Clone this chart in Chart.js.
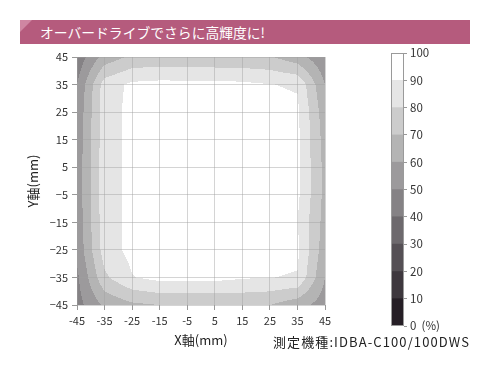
<!DOCTYPE html>
<html><head><meta charset="utf-8">
<script src="https://cdn.jsdelivr.net/npm/chart.js@4"></script>
<style>
html,body{margin:0;padding:0;background:#fff;}
#wrap{position:relative;width:490px;height:370px;overflow:hidden;font-family:"Noto Sans CJK JP","Noto Sans",sans-serif;}
#banner{position:absolute;left:20px;top:20px;width:450px;height:24px;background:#b55b7d;}
#tri{position:absolute;left:20px;top:20px;width:0;height:0;border-top:12px solid #cf86a2;border-right:12px solid transparent;}
#bannerText{position:absolute;left:40px;top:20px;height:24px;line-height:24px;color:#fff;font-size:13.8px;white-space:nowrap;}
#main{position:absolute;left:0;top:0;}
#cb{position:absolute;left:380px;top:40px;}
#foot{position:absolute;left:273px;top:332px;font-size:13px;color:#222;white-space:nowrap;letter-spacing:1.1px;}
</style></head>
<body>
<div id="wrap">
  <div id="banner"></div><div id="tri"></div>
  <div id="bannerText">オーバードライブでさらに高輝度に!</div>
  <canvas id="main" width="490" height="370"></canvas>
  <canvas id="cb" width="110" height="300"></canvas>
  <div id="foot">測定機種:IDBA-C100/100DWS</div>
</div>
<script>
// ---- data (relative luminance %) ----
const gridX = [-45, -35, -25, -15, -5, 5, 15, 25, 35, 45];
const gridY = [45, 35, 25, 15, 5, -5, -15, -25, -35, -45];
const rowY45  = [43, 64, 72, 73, 72, 72, 72, 71, 64, 52];
const rowY35  = [50, 85, 92, 93, 93, 93, 92, 90.3, 89, 60];
const rowY25  = [52, 86, 92.5, 95, 96, 96, 95, 93, 92, 64];
const rowY15  = [53, 86, 92.5, 96, 98, 98, 96, 94, 92, 66];
const rowY5   = [54, 86, 92.5, 97, 99, 99, 97, 94, 92, 67];
const rowYm5  = [54, 86, 92.5, 97, 99, 99, 97, 94, 92, 67];
const rowYm15 = [53, 86, 92.5, 96, 98, 98, 96, 94, 90.1, 66];
const rowYm25 = [52, 85, 93, 95, 96, 96, 95, 93, 92, 64];
const rowYm35 = [48, 78, 89.5, 93, 93, 93, 91, 90.2, 89.3, 60];
const rowYm45 = [46, 62, 68, 70, 70, 70, 71, 70, 64, 55];
const bandEdges = [0, 10, 20, 30, 40, 50, 60, 70, 80, 90, 100];
const bandColors = ['#261f26','#3e383e','#555055','#6d696d','#858285','#9c9a9c','#b4b4b4','#cccccc','#e5e5e5','#ffffff'];
const xTickLabels = ['-45','-35','-25','-15','-5','5','15','25','35','45'];
const yTickLabels = ['45','35','25','15','5','\u22125','\u221215','\u221225','\u221235','\u221245'];

const intensityRows = [rowY45, rowY35, rowY25, rowY15, rowY5, rowYm5, rowYm15, rowYm25, rowYm35, rowYm45];

function interp(x, y) {
  // bilinear interpolation on the measured grid
  let i = 0; while (i < gridX.length - 2 && x > gridX[i + 1]) i++;
  let j = 0; while (j < gridY.length - 2 && y < gridY[j + 1]) j++;
  const tx = Math.min(1, Math.max(0, (x - gridX[i]) / (gridX[i + 1] - gridX[i])));
  const ty = Math.min(1, Math.max(0, (y - gridY[j]) / (gridY[j + 1] - gridY[j])));
  const a = intensityRows[j][i], b = intensityRows[j][i + 1];
  const c = intensityRows[j + 1][i], d = intensityRows[j + 1][i + 1];
  return a * (1 - tx) * (1 - ty) + b * tx * (1 - ty) + c * (1 - tx) * ty + d * tx * ty;
}
function hexToRgb(h) { return [parseInt(h.substr(1,2),16), parseInt(h.substr(3,2),16), parseInt(h.substr(5,2),16)]; }
const bandRgb = bandColors.map(hexToRgb);
function bandIndex(v) {
  for (let k = bandEdges.length - 2; k >= 0; k--) if (v >= bandEdges[k]) return k;
  return 0;
}

const heatPlugin = {
  id: 'heat',
  beforeDraw(chart) {
    const ca = chart.chartArea, xs = chart.scales.x, ys = chart.scales.y;
    const w = Math.round(ca.right - ca.left), h = Math.round(ca.bottom - ca.top);
    const off = document.createElement('canvas'); off.width = w; off.height = h;
    const octx = off.getContext('2d');
    const img = octx.createImageData(w, h);
    for (let py = 0; py < h; py++) {
      const yv = ys.getValueForPixel(ca.top + py + 0.5);
      for (let px = 0; px < w; px++) {
        const xv = xs.getValueForPixel(ca.left + px + 0.5);
        const c = bandRgb[bandIndex(interp(xv, yv))];
        const o = (py * w + px) * 4;
        img.data[o] = c[0]; img.data[o+1] = c[1]; img.data[o+2] = c[2]; img.data[o+3] = 255;
      }
    }
    octx.putImageData(img, 0, 0);
    chart.ctx.drawImage(off, ca.left, ca.top);
  }
};

const tickFont = { family: '"Noto Sans CJK JP","Noto Sans",sans-serif', size: 11 };
new Chart(document.getElementById('main'), {
  type: 'scatter',
  data: { datasets: [{ data: [], pointRadius: 0 }] },
  options: {
    responsive: false, animation: false,
    layout: { padding: { left: 21, top: 57, right: 165, bottom: 19 } },
    plugins: { legend: { display: false }, tooltip: { enabled: false } },
    scales: {
      x: {
        type: 'linear', min: -45, max: 45,
        ticks: { stepSize: 10, color: '#333', font: tickFont, padding: 4, maxRotation: 0,
          callback: v => xTickLabels[gridX.indexOf(v)] },
        grid: { color: 'rgba(160,160,160,0.45)', tickLength: 5, tickColor: '#999' },
        border: { display: false },
        title: { display: true, text: 'X軸(mm)', color: '#222', font: { family: tickFont.family, size: 13 }, padding: { top: 0, bottom: 3 } },
        afterFit(s) { s.height = 46; }
      },
      y: {
        type: 'linear', min: -45, max: 45,
        ticks: { stepSize: 10, color: '#333', font: tickFont, padding: 4,
          callback: v => yTickLabels[gridY.indexOf(v)] },
        grid: { color: 'rgba(160,160,160,0.45)', tickLength: 5, tickColor: '#999' },
        border: { display: false },
        title: { display: true, text: 'Y軸(mm)', color: '#222', font: { family: tickFont.family, size: 13 }, padding: { top: 4, bottom: 0 } },
        afterFit(s) { s.width = 56; }
      }
    }
  },
  plugins: [heatPlugin]
});

// ---- colour bar ----
const cbOutline = {
  id: 'cbOutline',
  afterDraw(chart) {
    const ca = chart.chartArea, ctx = chart.ctx;
    ctx.save(); ctx.strokeStyle = '#9a9a9a'; ctx.lineWidth = 1;
    ctx.strokeRect(ca.left + 0.5, ca.top + 0.5, ca.right - ca.left - 1, ca.bottom - ca.top - 1);
    ctx.restore();
  }
};
new Chart(document.getElementById('cb'), {
  type: 'bar',
  data: {
    labels: [''],
    datasets: bandColors.map((c, k) => ({ data: [bandEdges[k + 1] - bandEdges[k]], backgroundColor: c, barPercentage: 1, categoryPercentage: 1 }))
  },
  options: {
    responsive: false, animation: false,
    layout: { padding: { left: 11, top: 13, right: 0, bottom: 14 } },
    plugins: { legend: { display: false }, tooltip: { enabled: false } },
    scales: {
      x: { display: false, stacked: true },
      y: {
        position: 'right', stacked: true, min: 0, max: 100,
        ticks: { stepSize: 10, color: '#333', font: { family: tickFont.family, size: 11.5 }, padding: 3,
          callback: v => v === 0 ? '0  (%)' : String(v) },
        grid: { drawOnChartArea: false, tickLength: 3, tickColor: '#999' },
        border: { display: false },
        afterFit(s) { s.width = 86; }
      }
    }
  },
  plugins: [cbOutline]
});
</script>
</body></html>
